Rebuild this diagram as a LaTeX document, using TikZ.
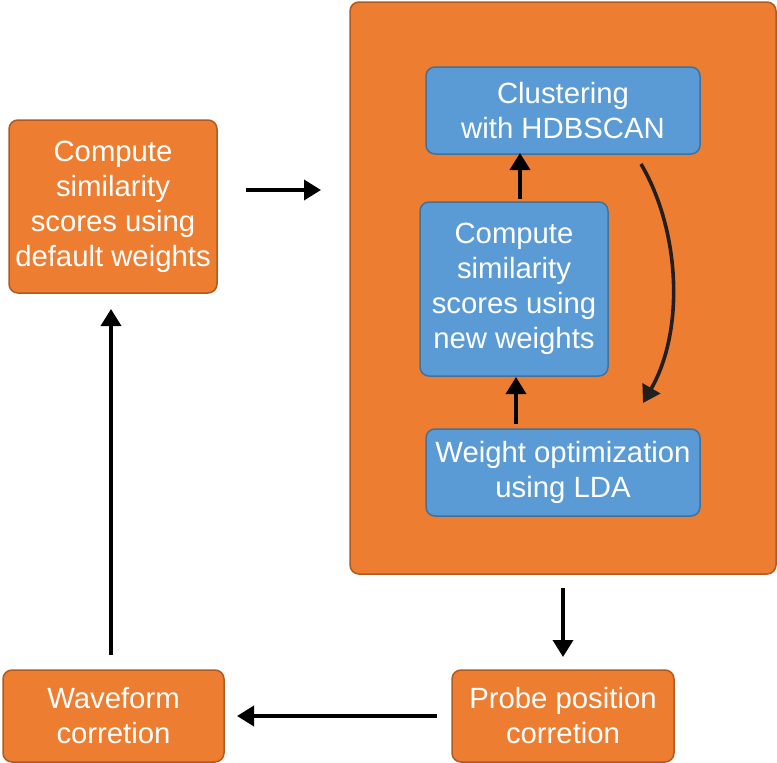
\documentclass[tikz,border=0pt]{standalone}
\usepackage{fontspec}
\setmainfont{Liberation Sans}
\usetikzlibrary{arrows.meta}
\definecolor{orangefill}{HTML}{ED7D31}
\definecolor{orangeline}{HTML}{AE5A21}
\definecolor{bluefill}{HTML}{5B9BD5}
\definecolor{blueline}{HTML}{41719C}
\definecolor{curvecol}{HTML}{231F20}
\tikzset{
  obox/.style={draw=orangeline, fill=orangefill, line width=1.5pt, rounded corners=9pt,
    text=white, align=center, inner sep=0pt, font=\fontsize{29.3}{35}\selectfont},
  bbox/.style={draw=blueline, fill=bluefill, line width=1.5pt, rounded corners=9pt,
    text=white, align=center, inner sep=0pt, font=\fontsize{29.3}{35}\selectfont},
  arr/.style={line width=3.6pt, -{Triangle[length=17pt,width=20pt]}},
}
\begin{document}
\begin{tikzpicture}[x=1pt,y=-1pt]
\useasboundingbox (0,0) rectangle (777,763);
% outer container
\node[obox, minimum width=426pt, minimum height=572pt] (outer) at (563,288) {};
% nodes
\node[obox, minimum width=208pt, minimum height=173pt] (default) at (113,206.5)
  {Compute\\similarity\\scores using\\default weights};
\node[bbox, minimum width=274pt, minimum height=87pt] (clust) at (563,110.5)
  {Clustering\\with HDBSCAN};
\node[bbox, minimum width=188pt, minimum height=174pt] (newc) at (514,289)
  {Compute\\similarity\\scores using\\new weights};
\node[bbox, minimum width=274pt, minimum height=87pt] (lda) at (563,472.5)
  {Weight optimization\\using LDA};
\node[obox, minimum width=221pt, minimum height=92pt] (wave) at (113.5,716)
  {Waveform\\corretion};
\node[obox, minimum width=222pt, minimum height=92pt] (probe) at (563,716)
  {Probe position\\corretion};
% arrow end points
\coordinate (a1s) at (246,190); \coordinate (a1e) at (321,190);
\coordinate (a2s) at (563,588); \coordinate (a2e) at (563,657);
\coordinate (a3s) at (437,716); \coordinate (a3e) at (237,716);
\coordinate (a4s) at (111,655); \coordinate (a4e) at (111,309);
\coordinate (b1s) at (520,199); \coordinate (b1e) at (520,153);
\coordinate (b2s) at (516,424); \coordinate (b2e) at (516,377);
\coordinate (cs) at (641,164); \coordinate (ce) at (643,403);
% connectors
\draw[arr] (a1s) -- (a1e);
\draw[arr] (a2s) -- (a2e);
\draw[arr] (a3s) -- (a3e);
\draw[arr] (a4s) -- (a4e);
\draw[arr] (b1s) -- (b1e);
\draw[arr] (b2s) -- (b2e);
\draw[arr, draw=curvecol] (cs) .. controls (680,230) and (685,330) .. (ce);
\end{tikzpicture}
\end{document}
